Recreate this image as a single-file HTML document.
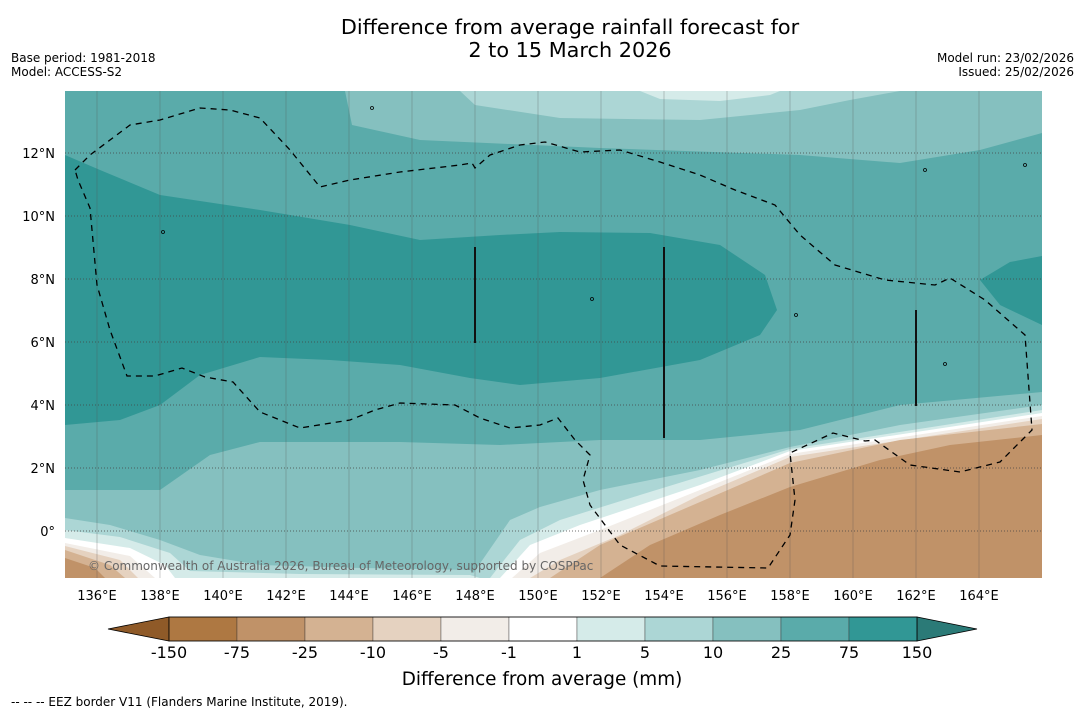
<!DOCTYPE html>
<html><head><meta charset="utf-8"><style>
body{margin:0;background:#fff;width:1085px;height:713px;overflow:hidden;font-family:"Liberation Sans","DejaVu Sans",sans-serif}
svg{position:absolute;left:0;top:0}
</style></head><body>
<svg id="s" width="1085" height="713" xmlns="http://www.w3.org/2000/svg">
<text x="570" y="34" font-size="20.8" text-anchor="middle" font-family="DejaVu Sans, sans-serif">Difference from average rainfall forecast for</text>
<text x="570" y="57" font-size="20.8" text-anchor="middle" font-family="DejaVu Sans, sans-serif">2 to 15 March 2026</text>
<text x="11" y="62" font-size="12" font-family="DejaVu Sans, sans-serif">Base period: 1981-2018</text>
<text x="11" y="76" font-size="12" font-family="DejaVu Sans, sans-serif">Model: ACCESS-S2</text>
<text x="1074" y="62" font-size="12" text-anchor="end" font-family="DejaVu Sans, sans-serif">Model run: 23/02/2026</text>
<text x="1074" y="76" font-size="12" text-anchor="end" font-family="DejaVu Sans, sans-serif">Issued: 25/02/2026</text>
<defs><clipPath id="mc"><rect x="65" y="91" width="977" height="487"/></clipPath></defs>
<g id="map" clip-path="url(#mc)"></g>
<g id="axes"></g>
<g id="cbar"></g>
<text x="542" y="685" font-size="18.4" text-anchor="middle" font-family="DejaVu Sans, sans-serif">Difference from average (mm)</text>
<text x="11" y="706" font-size="12" font-family="DejaVu Sans, sans-serif">--  --  -- EEZ border V11 (Flanders Marine Institute, 2019).</text>
</svg>
<script>
const levels=["-150","-75","-25","-10","-5","-1","1","5","10","25","75","150"];
const colors=["#ae7842","#c09268","#d4b292","#e5d2c0","#f2ede8","#ffffff","#d5ebe9","#acd6d5","#85c0bf","#5aabaa","#319795"];
const lowColor="#8f5a28", highColor="#2b7a77";
const lonTicks=[136,138,140,142,144,146,148,150,152,154,156,158,160,162,164];
const latTicks=[0,2,4,6,8,10,12];
const NS="http://www.w3.org/2000/svg";
const X=lon=>97+(lon-136)*31.5, Y=lat=>531-lat*31.5;
function mk(t,a,p){const e=document.createElementNS(NS,t);for(const k in a)e.setAttribute(k,a[k]);p.appendChild(e);return e;}
const map=document.getElementById('map');
const shapes=[
 ["#85c0bf",[[65,91],[1042,91],[1042,578],[65,578]]],
 ["#5aabaa",[[65,91],[345,91],[352,125],[420,140],[600,148],[800,155],[900,163],[980,150],[1042,133],[1042,392],[900,405],[800,430],[700,440],[600,440],[500,445],[400,442],[260,442],[210,455],[160,490],[65,490]]],
 ["#319795",[[65,155],[100,170],[160,195],[260,210],[350,225],[420,240],[500,235],[560,232],[650,233],[720,245],[765,275],[777,310],[760,335],[700,360],[600,378],[520,385],[470,378],[400,365],[330,360],[260,357],[200,375],[160,405],[120,420],[65,425]]],
 ["#319795",[[980,280],[1010,262],[1042,256],[1042,325],[1000,305]]],
 ["#acd6d5",[[460,91],[475,105],[560,118],[700,120],[800,110],[850,100],[900,91]]],
 ["#d5ebe9",[[640,91],[660,99],[720,101],[770,95],[780,91]]],
 ["#acd6d5",[[470,578],[510,520],[540,507],[600,490],[700,470],[790,447],[900,425],[1042,405],[1042,578]]],
 ["#d5ebe9",[[490,578],[520,540],[560,520],[640,495],[790,449],[1042,410],[1042,578]]],
 ["#ffffff",[[500,578],[530,545],[580,525],[700,485],[790,451],[1042,413],[1042,578]]],
 ["#f2ede8",[[512,578],[540,553],[600,530],[700,490],[790,454],[1042,416],[1042,578]]],
 ["#e5d2c0",[[530,578],[560,560],[620,535],[700,495],[790,457],[1042,419],[1042,578]]],
 ["#d4b292",[[550,578],[600,545],[700,502],[790,463],[900,440],[1042,424],[1042,578]]],
 ["#c09268",[[600,578],[650,545],[720,515],[790,487],[880,460],[950,445],[1042,435],[1042,578]]],
 ["#acd6d5",[[65,518],[110,525],[160,540],[200,555],[260,565],[360,568],[470,570],[480,578],[65,578]]],
 ["#d5ebe9",[[65,530],[120,537],[170,553],[190,571],[300,574],[470,575],[480,578],[65,578]]],
 ["#ffffff",[[65,538],[130,548],[165,565],[175,578],[65,578]]],
 ["#f2ede8",[[65,543],[130,556],[155,578],[65,578]]],
 ["#e5d2c0",[[65,546],[120,560],[138,578],[65,578]]],
 ["#d4b292",[[65,550],[110,565],[125,578],[65,578]]],
 ["#c09268",[[65,558],[95,568],[105,578],[65,578]]]
];
shapes.forEach((s,i)=>{const p=mk('polygon',{points:s[1].map(q=>q.join(',')).join(' '),fill:s[0]},map);

});
lonTicks.forEach(l=>{const g=mk('line',{x1:X(l),x2:X(l),y1:91,y2:578,stroke:'#555','stroke-width':0.6,'stroke-opacity':0.5},map);

});
latTicks.forEach(l=>{const g=mk('line',{x1:65,x2:1042,y1:Y(l),y2:Y(l),stroke:'#444','stroke-width':0.8,'stroke-dasharray':'1 2'},map);

});
const eez=[[75,170],[90,155],[130,125],[160,120],[200,108],[230,110],[260,118],[290,150],[320,187],[350,180],[400,172],[460,165],[472,163],[475,168],[490,155],[520,145],[545,142],[580,152],[620,150],[660,162],[700,175],[735,190],[775,205],[800,235],[835,265],[885,280],[935,285],[950,278],[985,300],[1025,335],[1032,430],[1000,462],[960,472],[910,465],[875,440],[865,441],[833,433],[790,453],[795,500],[790,535],[768,568],[660,566],[620,545],[590,505],[583,480],[590,455],[575,440],[558,418],[540,425],[510,428],[480,418],[455,405],[400,403],[375,410],[350,420],[300,428],[260,412],[233,382],[205,377],[182,368],[155,376],[127,376],[110,330],[97,285],[90,208],[78,180]];
const ez=mk('polygon',{points:eez.map(q=>q.join(',')).join(' '),fill:'none',stroke:'#000','stroke-width':1.3,'stroke-dasharray':'6 5'},map);


[[475,247,343],[664,247,438],[916,310,406]].forEach(v=>{const l=mk('line',{x1:v[0],x2:v[0],y1:v[1],y2:v[2],stroke:'#111','stroke-width':2},map);

});
[[372,108],[163,232],[592,299],[796,315],[945,364],[1025,165],[925,170]].forEach(p=>{const c=mk('circle',{cx:p[0],cy:p[1],r:1.5,fill:'none',stroke:'#000','stroke-width':0.8},map);

});
const wm=mk('text',{x:88,y:570,'font-size':12,fill:'#666','font-family':'DejaVu Sans, sans-serif'},map);
wm.textContent='© Commonwealth of Australia 2026, Bureau of Meteorology, supported by COSPPac';


const ax=document.getElementById('axes');
lonTicks.forEach(l=>{const t=mk('text',{x:X(l),y:600,'font-size':13,'text-anchor':'middle','font-family':'DejaVu Sans, sans-serif'},ax);t.textContent=l+'°E';

});
latTicks.forEach(l=>{const t=mk('text',{x:55,y:Y(l)+5,'font-size':13,'text-anchor':'end','font-family':'DejaVu Sans, sans-serif'},ax);t.textContent=l===0?'0°':l+'°N';

});
const cb=document.getElementById('cbar');const x0=169,x1=917,w=(x1-x0)/colors.length;
const tl=mk('polygon',{points:`108,629 ${x0},617 ${x0},641`,fill:lowColor,stroke:'#000','stroke-width':0.8},cb);


const tr=mk('polygon',{points:`977,629 ${x1},617 ${x1},641`,fill:highColor,stroke:'#000','stroke-width':0.8},cb);


colors.forEach((c,i)=>{const r=mk('rect',{x:x0+i*w,y:617,width:w,height:24,fill:c,stroke:'#333','stroke-width':0.4},cb);

});
mk('rect',{x:x0,y:617,width:x1-x0,height:24,fill:'none',stroke:'#000','stroke-width':0.8},cb);
levels.forEach((v,i)=>{const t=mk('text',{x:x0+i*w,y:658,'font-size':16,'text-anchor':'middle','font-family':'DejaVu Sans, sans-serif'},cb);t.textContent=v;

});
</script>
</body></html>
